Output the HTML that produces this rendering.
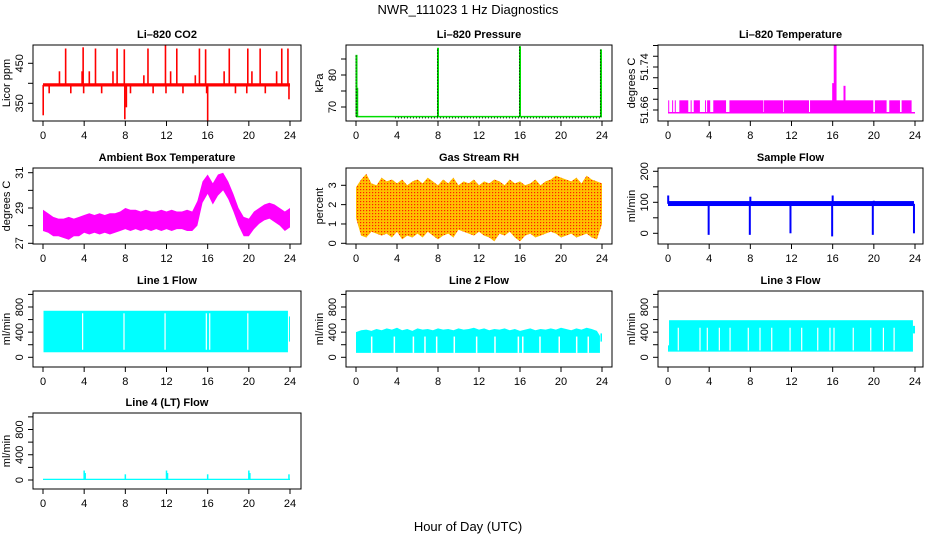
<!DOCTYPE html>
<html><head><meta charset="utf-8"><style>
html,body{margin:0;padding:0;background:#fff;}
svg{display:block;font-family:"Liberation Sans",sans-serif;}
</style></head><body>
<svg id="c" width="936" height="540" viewBox="0 0 936 540" xmlns="http://www.w3.org/2000/svg">
<defs>
<pattern id="rhp" width="3" height="3" patternUnits="userSpaceOnUse"><rect width="3" height="3" fill="#ffc000"/><rect width="1.2" height="1.2" fill="#ff2000"/></pattern>
</defs>
<text x="468" y="14" text-anchor="middle" font-size="13">NWR_111023  1 Hz Diagnostics</text>
<text x="468" y="531" text-anchor="middle" font-size="13">Hour of Day (UTC)</text>
</svg>
<script>
// ---- data ----
const xTicks = [0,4,8,12,16,20,24];
// CO2
const co2BandHours = [0,24];
const co2BandLo = [392,392];
const co2BandHi = [400,400];
const co2SpikeHours = [2.2,3.9,5.1,7.2,7.9,10.2,11.9,13.0,15.2,15.8,18.1,19.9,21.1,23.2,23.8,1.6,3.8,4.5,6.8,9.8,12.4,14.8,17.6,20.3,22.7,0.02,7.95,16.0,8.1,23.9,0.6,2.7,3.95,5.7,8.5,10.7,11.95,13.6,15.9,18.7,19.8,21.6];
const co2SpikeVals = [487,490,487,487,485,487,495,487,487,485,487,487,487,487,487,430,430,430,430,420,430,420,430,430,430,320,310,305,340,360,375,375,375,375,375,375,375,375,375,375,375,375];
// Pressure
const presBase = 67;
const presSpikeHours = [0.05,0.12,8.0,16.0,23.9];
const presSpikeVals = [86.3,76,88.5,89,88];
// Li-820 temperature
const tempSegStart = [0.02,0.4,0.66,1.1,2.2,2.5,3.6,3.8,4.4,5.97,9.33,11.27,13.8,20.1,21.5,22.7];
const tempSegEnd = [0.05,0.44,0.7,1.97,2.24,3.1,3.64,4.1,5.64,9.27,11.2,13.7,19.95,21.24,22.54,23.67];
const tempBase = 51.655;
const tempBandTop = 51.678;
const tempSpikeHours = [16.05,16.2,16.28,17.15];
const tempSpikeVals = [51.71,51.787,51.787,51.705];
// Ambient box temperature (half-hour envelopes)
const halfHours = [0,0.5,1,1.5,2,2.5,3,3.5,4,4.5,5,5.5,6,6.5,7,7.5,8,8.5,9,9.5,10,10.5,11,11.5,12,12.5,13,13.5,14,14.5,15,15.5,16,16.5,17,17.5,18,18.5,19,19.5,20,20.5,21,21.5,22,22.5,23,23.5,24];
const ambLo = [27.7,27.6,27.4,27.4,27.3,27.2,27.4,27.4,27.6,27.5,27.6,27.5,27.6,27.5,27.6,27.7,27.8,27.7,27.8,27.7,27.8,27.7,27.8,27.7,27.8,27.7,27.8,27.8,27.7,27.7,28.0,29.3,29.8,29.2,29.7,30.0,29.5,28.8,28.0,27.4,27.4,27.8,28.1,28.3,28.4,28.2,28.0,27.7,27.9];
const ambHi = [28.9,28.7,28.5,28.4,28.4,28.5,28.4,28.5,28.6,28.7,28.6,28.7,28.6,28.7,28.7,28.8,29.0,28.9,28.9,28.8,28.9,28.8,28.8,28.9,28.8,28.9,28.8,28.8,28.9,28.8,29.4,30.5,30.9,30.4,30.9,31.0,30.5,29.8,29.0,28.5,28.4,28.8,29.0,29.2,29.3,29.2,29.0,28.8,29.0];
// Gas stream RH
const rhHi = [2.9,3.3,3.6,3.1,3.0,3.4,3.2,3.3,3.1,3.3,3.0,3.2,3.3,3.1,3.4,3.2,3.0,3.3,3.1,3.4,3.0,3.2,3.1,3.3,3.0,3.2,3.1,3.3,3.2,3.0,3.3,3.1,3.2,3.0,3.1,3.3,3.0,3.2,3.3,3.5,3.4,3.3,3.2,3.4,3.1,3.5,3.3,3.2,3.1];
const rhLo = [1.3,0.4,0.3,0.6,0.5,0.4,0.5,0.3,0.6,0.2,0.4,0.3,0.5,0.3,0.6,0.4,0.2,0.4,0.5,0.3,0.7,0.6,0.5,0.4,0.6,0.4,0.3,0.1,0.5,0.4,0.6,0.3,0.1,0.4,0.5,0.3,0.4,0.5,0.6,0.5,0.3,0.4,0.5,0.3,0.4,0.5,0.3,0.2,1.0];
// Sample flow
const sfBandLo = 88, sfBandHi = 104;
const sfSpikeHours = [3.95,7.95,11.9,15.95,19.9,23.9,0.02,8.0,16.0,20.0];
const sfSpikeVals = [-5,-5,0,-10,-5,0,122,118,122,105];
// Line flows
const l1Lo = 80, l1Hi = 740;
const l1Gaps = [3.85,7.87,11.86,15.87,16.2,19.9];
const l2Lo = 70;
const l2Hi = [400,430,440,420,450,430,460,440,470,430,450,420,460,440,450,430,460,440,450,430,460,440,450,470,440,460,430,450,440,460,430,450,420,440,460,430,450,440,460,440,470,450,430,460,440,470,450,420,340];
const l2Gaps = [1.53,3.74,5.6,6.73,7.87,9.59,11.77,13.56,15.84,16.27,17.95,19.83,21.53,22.66];
const l2GapTop = 330;
const l3Lo = 90, l3Hi = 590;
const l3Gaps = [1.0,3.11,3.82,4.99,6.03,7.8,8.94,10.08,11.86,12.99,14.55,15.74,16.13,18.0,19.7,20.93,21.97];
const l3GapTop = 470;
const l4Lo = 0, l4Hi = 20;
const l4SpikeHours = [4.0,4.1,8.0,12.0,12.1,16.0,20.0,20.1,23.9];
const l4SpikeVals = [150,110,90,150,110,90,150,110,90];

// ---- drawing ----
const svg = document.getElementById('c');
const NS = 'http://www.w3.org/2000/svg';
function el(tag, attrs, parent){
  const e = document.createElementNS(NS, tag);
  for (const k in attrs) e.setAttribute(k, attrs[k]);
  (parent||svg).appendChild(e);
  return e;
}
function panel(cfg){
  const g = el('g', {});
  
  
  const X = h => cfg.x0 + h/24*(cfg.x24 - cfg.x0);
  const Y = v => cfg.ya + (v - cfg.va)/(cfg.vb - cfg.va)*(cfg.yb - cfg.ya);
  const plot = el('g', {}, g);
  
  
  const clip = 'clip-' + cfg.name;
  const cp = el('clipPath', {id: clip}, g);
  el('rect', {x: cfg.bx0, y: cfg.by0, width: cfg.bx1-cfg.bx0, height: cfg.by1-cfg.by0}, cp);
  plot.setAttribute('clip-path', 'url(#' + clip + ')');
  const box = el('rect', {x: cfg.bx0, y: cfg.by0, width: cfg.bx1-cfg.bx0, height: cfg.by1-cfg.by0, fill: 'none', stroke: '#000', 'stroke-width': 1}, g);
  
  
  const t = el('text', {x: (cfg.bx0+cfg.bx1)/2, y: cfg.by0-7, 'text-anchor': 'middle', 'font-size': 11, 'font-weight': 'bold'}, g);
  t.textContent = cfg.title;
  
  
  for (const h of xTicks){
    el('line', {x1: X(h), x2: X(h), y1: cfg.by1, y2: cfg.by1+5, stroke: '#000'}, g);
    const l = el('text', {x: X(h), y: cfg.by1+18, 'text-anchor': 'middle', 'font-size': 11}, g);
    l.textContent = h;
    
    
  }
  for (const v of cfg.yTicks){
    el('line', {x1: cfg.bx0, x2: cfg.bx0-5, y1: Y(v), y2: Y(v), stroke: '#000'}, g);
  }
  for (let i=0;i<cfg.yLabels.length;i++){
    const v = cfg.yLabels[i];
    const lx = cfg.bx0-10, ly = Y(v);
    const l = el('text', {x: lx, y: ly, 'text-anchor': 'middle', 'font-size': 11, transform: 'rotate(-90 '+lx+' '+ly+')'}, g);
    l.textContent = cfg.yLabelText ? cfg.yLabelText[i] : v;
    
    
  }
  const yt = el('text', {x: cfg.bx0-23, y: (cfg.by0+cfg.by1)/2, 'text-anchor': 'middle', 'font-size': 11, transform: 'rotate(-90 '+(cfg.bx0-23)+' '+((cfg.by0+cfg.by1)/2)+')'}, g);
  yt.textContent = cfg.ylab;
  
  
  return {X, Y, g: plot};
}
function band(p, hours, lo, hi, fill){
  let pts = [];
  for (let i=0;i<hours.length;i++) pts.push(p.X(hours[i])+','+p.Y(hi[i]));
  for (let i=hours.length-1;i>=0;i--) pts.push(p.X(hours[i])+','+p.Y(lo[i]));
  const e = el('polygon', {points: pts.join(' '), fill: fill, stroke: 'none'}, p.g);
  
  
  return e;
}
function vline(p, h, v1, v2, color, w){
  const e = el('line', {x1: p.X(h), x2: p.X(h), y1: p.Y(v1), y2: p.Y(v2), stroke: color, 'stroke-width': w||1.5}, p.g);
  
  
  return e;
}
function rectH(p, h1, h2, v1, v2, color){
  const e = el('rect', {x: p.X(h1), width: Math.max(1, p.X(h2)-p.X(h1)), y: p.Y(v2), height: p.Y(v1)-p.Y(v2), fill: color}, p.g);
  
  
  return e;
}

const C1 = {bx0:33,bx1:301,x0:43,x24:290}, C2 = {bx0:346,bx1:612,x0:356,x24:602}, C3 = {bx0:658,bx1:923,x0:668,x24:915};
const R1 = {by0:45,by1:121}, R2 = {by0:168,by1:244}, R3 = {by0:291,by1:367}, R4 = {by0:413,by1:489};

// CO2
let p = panel(Object.assign({name:'co2', title:'Li\u2013820 CO2', ylab:'Licor ppm', va:350, ya:103.3, vb:450, yb:63.3, yTicks:[350,400,450], yLabels:[350,450]}, C1, R1));
band(p, co2BandHours, co2BandLo, co2BandHi, '#ff0000');
for (let i=0;i<co2SpikeHours.length;i++) vline(p, co2SpikeHours[i], 396, co2SpikeVals[i], '#ff0000', 1.6);

// Pressure
p = panel(Object.assign({name:'pressure', title:'Li\u2013820 Pressure', ylab:'kPa', va:70, ya:107, vb:80, yb:75, yTicks:[70,75,80,85], yLabels:[70,80]}, C2, R1));
el('line', {x1:p.X(0), x2:p.X(24), y1:p.Y(presBase), y2:p.Y(presBase), stroke:'#00dd00', 'stroke-width':1.5}, p.g);
el('line', {x1:p.X(3.8), x2:p.X(24), y1:p.Y(presBase-0.4), y2:p.Y(presBase-0.4), stroke:'#000', 'stroke-width':1, 'stroke-dasharray':'1,2'}, p.g);
for (let i=0;i<presSpikeHours.length;i++){
  vline(p, presSpikeHours[i], presBase, presSpikeVals[i], '#00dd00', 2);
  vline(p, presSpikeHours[i]-0.05, presBase, presSpikeVals[i], '#000', 1).setAttribute('stroke-dasharray','1,2');
}

// Li-820 temperature
p = panel(Object.assign({name:'li820-temp', title:'Li\u2013820 Temperature', ylab:'degrees C', va:51.66, ya:110, vb:51.74, yb:67, yTicks:[51.66,51.68,51.70,51.72,51.74,51.76,51.78], yLabels:[51.66,51.74], yLabelText:['51.66','51.74']}, C3, R1));
el('line', {x1:p.X(0), x2:p.X(24), y1:p.Y(tempBase), y2:p.Y(tempBase), stroke:'#ff00ff', 'stroke-width':1.5}, p.g);
for (let i=0;i<tempSegStart.length;i++) rectH(p, tempSegStart[i], tempSegEnd[i], tempBase, tempBandTop, '#ff00ff');
for (let i=0;i<tempSpikeHours.length;i++) vline(p, tempSpikeHours[i], tempBase, tempSpikeVals[i], '#ff00ff', 2);

// Ambient
p = panel(Object.assign({name:'ambient-temp', title:'Ambient Box Temperature', ylab:'degrees C', va:27, ya:243.3, vb:31, yb:172.7, yTicks:[27,28,29,30,31], yLabels:[27,29,31]}, C1, R2));
band(p, halfHours, ambLo, ambHi, '#ff00ff');

// RH
p = panel(Object.assign({name:'gas-rh', title:'Gas Stream RH', ylab:'percent', va:0, ya:243.3, vb:3, yb:185.3, yTicks:[0,1,2,3], yLabels:[0,1,2,3]}, C2, R2));
band(p, halfHours, rhLo, rhHi, 'url(#rhp)');

// Sample flow
p = panel(Object.assign({name:'sample-flow', title:'Sample Flow', ylab:'ml/min', va:0, ya:233.3, vb:100, yb:202.3, yTicks:[0,50,100,150,200], yLabels:[0,100,200]}, C3, R2));
rectH(p, 0, 23.9, sfBandLo, sfBandHi, '#0000ff');
for (let i=0;i<sfSpikeHours.length;i++) vline(p, sfSpikeHours[i], 95, sfSpikeVals[i], '#0000ff', 2);

const flowAxis = {va:0, vb:800, yTicks:[0,200,400,600,800,1000], yLabels:[0,400,800], ylab:'ml/min'};
// Line 1
p = panel(Object.assign({name:'line1-flow', title:'Line 1 Flow', ya:357.3, yb:307}, flowAxis, C1, R3));
rectH(p, 0.05, 23.8, l1Lo, l1Hi, '#00ffff');
rectH(p, 23.9, 24, 250, 650, '#00ffff');
for (const h of l1Gaps) vline(p, h, l1Lo+40, l1Hi-40, '#fff', 1.2);
// Line 2
p = panel(Object.assign({name:'line2-flow', title:'Line 2 Flow', ya:357.3, yb:307}, flowAxis, C2, R3));
band(p, halfHours.slice(0,48).concat([23.8]), new Array(49).fill(l2Lo), l2Hi, '#00ffff');
rectH(p, 23.85, 24, 250, 380, '#00ffff');
for (const h of l2Gaps) vline(p, h, l2Lo, l2GapTop, '#fff', 1.5);
// Line 3
p = panel(Object.assign({name:'line3-flow', title:'Line 3 Flow', ya:357.3, yb:307}, flowAxis, C3, R3));
rectH(p, 0, 0.1, l3Lo, 190, '#00ffff');
rectH(p, 0.1, 23.8, l3Lo, l3Hi, '#00ffff');
rectH(p, 23.8, 24, 380, 500, '#00ffff');
for (const h of l3Gaps) vline(p, h, l3Lo+20, l3GapTop, '#fff', 1.2);
// Line 4
p = panel(Object.assign({name:'line4-flow', title:'Line 4 (LT) Flow', ya:480, yb:429.5}, flowAxis, C1, R4));
rectH(p, 0, 24, l4Lo, l4Hi, '#00ffff');
for (let i=0;i<l4SpikeHours.length;i++) vline(p, l4SpikeHours[i], 10, l4SpikeVals[i], '#00ffff', 1.5);
</script>
</body></html>
